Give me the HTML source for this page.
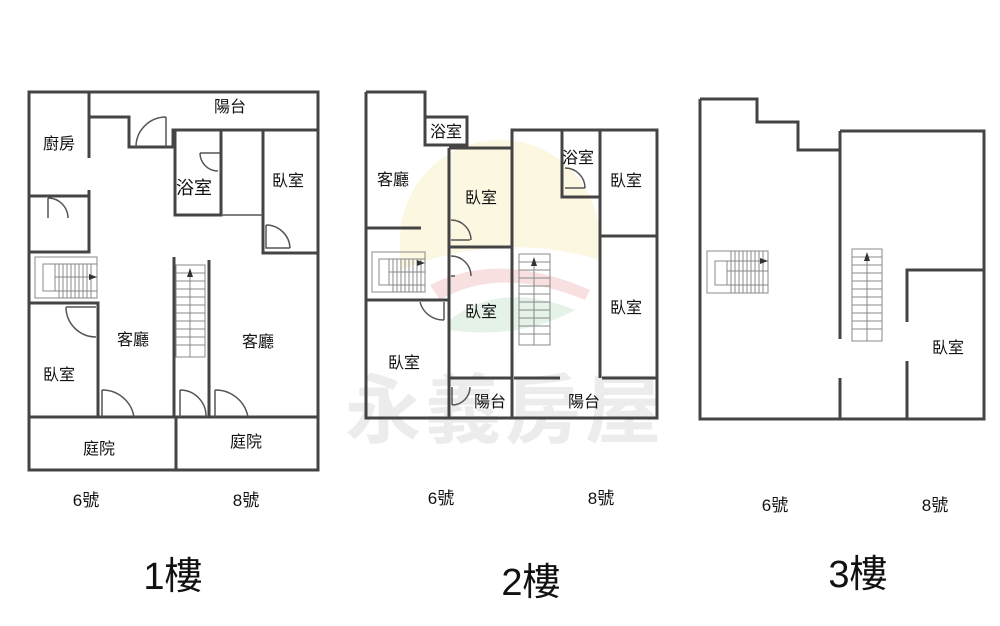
<!DOCTYPE html>
<html><head><meta charset="utf-8"><style>
html,body{margin:0;padding:0;background:#fff;width:1000px;height:626px;overflow:hidden}
svg{display:block}
text{font-family:"Liberation Sans","Noto Sans CJK TC",sans-serif;fill:#111}
</style></head><body>
<svg width="1000" height="626" viewBox="0 0 1000 626" xmlns="http://www.w3.org/2000/svg">
<g opacity="0.55">
<path d="M400,240 A100,100 0 0 1 600,240 Z" fill="#fbf1c8"/>
<path d="M400,245 A100,100 0 0 1 600,245 L600,260 Q500,230 400,270 Z" fill="#fbf1c8"/>
<path d="M430,285 Q500,250 590,290 L585,300 Q500,265 440,300 Z" fill="#f4c8c8"/>
<path d="M450,320 Q500,280 575,310 Q520,340 450,330 Z" fill="#cfe8d6"/>
</g>
<text x="505" y="437" font-size="76" text-anchor="middle" style="fill:#ececec;font-weight:bold" letter-spacing="4">永義房屋</text>

<g fill="none" stroke="#444" stroke-width="3">
<path d="M29,92 H318 V470 H29 Z"/>
<path d="M89,92 V158 M89,190 V252 H29 M29,196 H89"/>
<path d="M89,117 H129 V147 H173 V130 H318"/>
<path d="M175,130 V215 H221 V130"/>
<path d="M263,130 V253 H318"/>
<path d="M29,303 H98 V417"/>
<path d="M174,257 V417 M209,260 V417"/>
<path d="M29,417 H318 M176,417 V470"/>
<path d="M366,92 H425 V117 H467 V145 H425 V117"/>
<path d="M366,92 V418 H512 V130 H657 V418 H512"/>
<path d="M449,148 H512 M449,148 V418 M449,247 H512 M449,378 H512"/>
<path d="M366,228 H421 M366,300 H449"/>
<path d="M562,130 V197 H600 M600,130 V378 M600,236 H657"/>
<path d="M514,378 H560 M602,378 H657"/>
<path d="M700,99 H757 V122 H798 V150 H840 M840,131 H984 V419 H700 V99"/>
<path d="M840,131 V339 M840,378 V419"/>
<path d="M907,322 V270 H984 M907,361 V419"/>
</g>

<g fill="none" stroke="#555" stroke-width="1.5">
<path d="M166,117 V147 M166,117 A30,30 0 0 0 136,147"/>
<path d="M200,153 H220 M200,153 A18,18 0 0 0 218,171"/>
<path d="M48,198 V218 M48,198 A20,20 0 0 1 68,218"/>
<path d="M266,225 V248 H290 M266,225 A24,24 0 0 1 290,248"/>
<path d="M66,307 H96 M66,307 A30,30 0 0 0 96,337"/>
<path d="M102,390 V417 M102,390 A32,32 0 0 1 134,417"/>
<path d="M180,390 V417 M180,390 A26,26 0 0 1 206,417"/>
<path d="M215,390 V417 M215,390 A33,33 0 0 1 248,417"/>
<path d="M221,215 H263"/>
<path d="M451,240 H470 M451,220 A20,20 0 0 1 471,240"/>
<path d="M451,256 A20,20 0 0 1 471,276 M451,276 H455"/>
<path d="M444,302 V320 M444,320 A24,24 0 0 1 420,302"/>
<path d="M565,188 H585 M565,168 A20,20 0 0 1 585,188"/>
<path d="M452,387 V405 M452,405 A18,18 0 0 0 470,387"/>
</g>

<g fill="none" stroke="#888" stroke-width="1">
<rect x="35" y="257" width="62" height="41"/>
<rect x="43" y="264" width="12" height="27"/>
<path d="M55,264 H97 M55,291 H97 M55,277 H97"/>
<path d="M59,264V277 M63,264V277 M67,264V277 M71,264V277 M75,264V277 M79,264V277 M83,264V277 M87,264V277 M91,264V277 M59,277V298 M63,277V298 M67,277V298 M71,277V298 M75,277V298 M79,277V298 M83,277V298 M87,277V298 M91,277V298"/>
<rect x="176" y="265" width="29" height="92"/>
<path d="M176,273H205M176,281H205M176,289H205M176,297H205M176,305H205M176,313H205M176,321H205M176,329H205M176,337H205M176,345H205M190,270V357"/>
<rect x="372" y="252" width="53" height="40"/>
<rect x="379" y="259" width="10" height="26"/>
<path d="M389,259H425 M389,285H425 M389,272H425 M393,259V292 M397,259V292 M401,259V292 M405,259V292 M409,259V292 M413,259V292 M417,259V292 M421,259V292"/>
<rect x="519" y="254" width="31" height="91"/>
<path d="M519,262H550M519,270H550M519,278H550M519,286H550M519,294H550M519,302H550M519,310H550M519,318H550M519,326H550M519,334H550M534,260V345"/>
<rect x="707" y="251" width="61" height="42"/>
<rect x="715" y="261" width="12" height="24"/>
<path d="M727,261H768 M727,285H768 M727,271H768 M731,251V293 M735,251V293 M739,251V293 M743,251V293 M747,251V293 M751,251V293 M755,251V293 M759,251V293 M763,251V293"/>
<rect x="852" y="249" width="30" height="92"/>
<path d="M852,257H882M852,265H882M852,273H882M852,281H882M852,289H882M852,297H882M852,305H882M852,313H882M852,321H882M852,329H882M867,255V341"/>
</g>
<g fill="#333">
<path d="M190,268 l-3,9 h6 z"/><path d="M534,257 l-3,9 h6 z"/><path d="M867,252 l-3,9 h6 z"/>
<path d="M97,277 l-8,-3 v6 z"/><path d="M425,263 l-8,-3 v6 z"/><path d="M768,261 l-8,-3 v6 z"/>
</g>

<g font-size="16" text-anchor="middle">
<text x="230" y="112">陽台</text>
<text x="59" y="149">廚房</text>
<text x="194" y="194" font-size="18">浴室</text>
<text x="288" y="186">臥室</text>
<text x="133" y="345">客廳</text>
<text x="258" y="347">客廳</text>
<text x="59" y="380">臥室</text>
<text x="99" y="454">庭院</text>
<text x="246" y="447">庭院</text>
<text x="446" y="137">浴室</text>
<text x="393" y="185">客廳</text>
<text x="481" y="203">臥室</text>
<text x="578" y="163">浴室</text>
<text x="626" y="186">臥室</text>
<text x="481" y="317">臥室</text>
<text x="626" y="313">臥室</text>
<text x="404" y="368">臥室</text>
<text x="490" y="407">陽台</text>
<text x="584" y="407">陽台</text>
<text x="948" y="353">臥室</text>
<text x="86" y="506" font-size="17">6號</text>
<text x="246" y="506" font-size="17">8號</text>
<text x="441" y="504" font-size="17">6號</text>
<text x="601" y="504" font-size="17">8號</text>
<text x="775" y="511" font-size="17">6號</text>
<text x="935" y="511" font-size="17">8號</text>
</g>
<g font-size="38" text-anchor="middle">
<text x="173" y="589">1樓</text>
<text x="531" y="595">2樓</text>
<text x="858" y="587">3樓</text>
</g>
</svg>
</body></html>
